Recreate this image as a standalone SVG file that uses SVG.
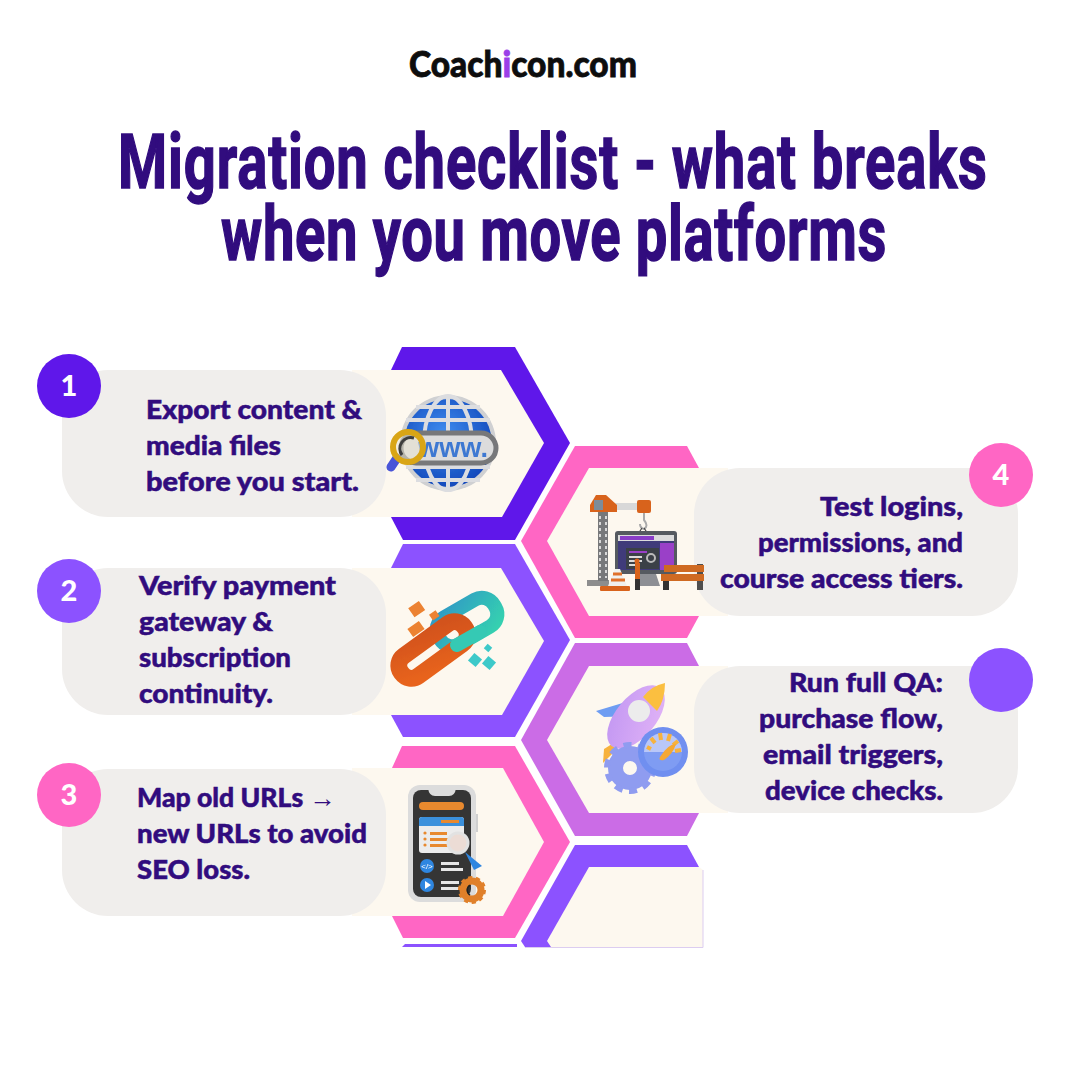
<svg xmlns="http://www.w3.org/2000/svg" width="1080" height="1080" viewBox="0 0 1080 1080">
<style>
.title{font-family:"Roboto","Liberation Sans",sans-serif;font-weight:700;font-size:72px;fill:#310c7e;stroke:#310c7e;stroke-width:1.4px}
.body{font-family:"Lato","Noto Sans",sans-serif;font-weight:900;font-size:26px;fill:#310c7e;stroke:#310c7e;stroke-width:.5px}
.num{font-family:"Lato","Noto Sans",sans-serif;font-weight:900;font-size:29px;fill:#fff;text-anchor:middle}
.pill{fill:#f0eeec}
.cream{fill:#fdf8ef}
.p1{fill:#5f17ea}.p2{fill:#8c52ff}.p3{fill:#ff66c4}.p4{fill:#cb6ce6}
</style>
<defs>
<radialGradient id="gb" cx="0.45" cy="0.4" r="0.65"><stop offset="0" stop-color="#3f8df0"/><stop offset="1" stop-color="#1045b8"/></radialGradient>
<linearGradient id="go" x1="0" y1="1" x2="1" y2="0"><stop offset="0" stop-color="#e8641b"/><stop offset="1" stop-color="#d2521a"/></linearGradient>
<linearGradient id="gt" x1="0" y1="0" x2="1" y2="1"><stop offset="0" stop-color="#2f9cc4"/><stop offset="1" stop-color="#35d0b0"/></linearGradient>
<linearGradient id="gr" x1="1" y1="0" x2="0" y2="1"><stop offset="0" stop-color="#e3b5f7"/><stop offset="1" stop-color="#c095f2"/></linearGradient>
<filter id="soft" x="-5%" y="-5%" width="110%" height="110%"><feGaussianBlur stdDeviation="0.5"/></filter>
</defs>
<rect width="1080" height="1080" fill="#fff"/>

<g id="logo"><text x="409" y="77" textLength="228" lengthAdjust="spacingAndGlyphs" style="font-family:Lato,'Noto Sans',sans-serif;font-weight:900;font-size:36px;fill:#0d0d0d;stroke:#0d0d0d;stroke-width:.8px">Coach<tspan fill="#9b3fe8" stroke="#9b3fe8">i</tspan>con.com</text></g>
<g id="title">
<text class="title" transform="translate(118 188) scale(.78 1.06)" textLength="1114" lengthAdjust="spacing">Migration checklist - what breaks</text>
<text class="title" transform="translate(221 260) scale(.78 1.06)" textLength="853" lengthAdjust="spacing">when you move platforms</text>
</g>

<g id="step-1">
<polygon class="p1" points="402,347 515,347 570,443 515,540 403,540 391,517 391,370"/>
<polygon class="cream" points="352,370 501,370 544,443 502,517 352,517"/>
<rect class="pill" x="62" y="370" width="324" height="147" rx="46"/>
<circle class="p1" cx="69" cy="386" r="32"/>
<text class="num" x="69" y="396">1</text>
<text class="body" x="146" y="419" textLength="216" lengthAdjust="spacingAndGlyphs">Export content &amp;</text>
<text class="body" x="146" y="455" textLength="135" lengthAdjust="spacingAndGlyphs">media files</text>
<text class="body" x="146" y="491" textLength="213" lengthAdjust="spacingAndGlyphs">before you start.</text>
<g filter="url(#soft)">
<circle cx="448" cy="443" r="48" fill="#cfd0d2"/>
<circle cx="448" cy="443" r="44" fill="url(#gb)"/>
<g fill="none" stroke="#dcdde0" stroke-width="4"><ellipse cx="448" cy="443" rx="24" ry="47"/><path d="M448 395V491M406 420H490M406 467H490M416 407H480M416 480H480"/></g>
<rect x="401" y="433" width="95" height="30" rx="15" fill="#dcdcdc" stroke="#77787a" stroke-width="5"/>
<text x="418" y="457" style="font-family:'Liberation Sans',sans-serif;font-weight:700;font-size:27px;fill:#3c78d2" textLength="70" lengthAdjust="spacingAndGlyphs">www.</text>
<path d="M397 458L391 467" stroke="#4a55d8" stroke-width="9" stroke-linecap="round"/>
<circle cx="408" cy="447" r="15" fill="#e9e3d2" fill-opacity=".55" stroke="#d9a514" stroke-width="6"/>
<path d="M402 455A11 11 0 0 1 414 438" fill="none" stroke="#3d3d3d" stroke-width="3"/>
</g>
</g>

<g id="step-2">
<polygon class="p2" points="403,544 515,544 570,640 515,737 403,737 391,715 391,568"/>
<polygon class="cream" points="352,568 501,568 544,641 502,715 352,715"/>
<rect class="pill" x="62" y="568" width="324" height="147" rx="46"/>
<circle class="p2" cx="69" cy="591" r="32"/>
<text class="num" x="69" y="601">2</text>
<text class="body" x="139" y="595" textLength="197" lengthAdjust="spacingAndGlyphs">Verify payment</text>
<text class="body" x="139" y="631" textLength="134" lengthAdjust="spacingAndGlyphs">gateway &amp;</text>
<text class="body" x="139" y="667" textLength="152" lengthAdjust="spacingAndGlyphs">subscription</text>
<text class="body" x="139" y="703" textLength="134" lengthAdjust="spacingAndGlyphs">continuity.</text>
<g filter="url(#soft)">
<rect x="435" y="606.5" width="64" height="31" rx="14" transform="rotate(-30 467 622)" fill="none" stroke="url(#gt)" stroke-width="14"/>
<rect x="394" y="637.5" width="78" height="25" rx="12" transform="rotate(-36 433 650)" fill="none" stroke="url(#go)" stroke-width="17"/>
<path d="M457 645L480 632" fill="none" stroke="#35c9b4" stroke-width="14" stroke-linecap="round"/>
<g fill="#ec8230"><rect x="410" y="604" width="13" height="11" transform="rotate(-35 416 609)"/><rect x="430" y="612" width="8" height="7" transform="rotate(-35 434 615)"/><rect x="409" y="624" width="14" height="10" transform="rotate(-35 416 629)"/></g>
<g fill="#3dc9c9"><rect x="470" y="655" width="10" height="10" transform="rotate(40 475 660)"/><rect x="485" y="645" width="6" height="6" transform="rotate(40 488 648)"/><rect x="484" y="658" width="10" height="10" transform="rotate(40 489 663)"/></g>
</g>
</g>

<g id="step-3">
<polygon class="p3" points="402,746 515,746 570,842 515,938 403,938 392,916 392,768"/>
<polygon class="cream" points="352,768 503,768 544,842 503,916 352,916"/>
<rect class="pill" x="62" y="769" width="324" height="147" rx="46"/>
<circle class="p3" cx="69" cy="795" r="32"/>
<text class="num" x="69" y="805">3</text>
<text class="body" x="137" y="807" textLength="199" lengthAdjust="spacingAndGlyphs">Map old URLs <tspan style="font-family:'Liberation Sans',sans-serif;font-weight:400;stroke-width:0">→</tspan></text>
<text class="body" x="137" y="843" textLength="230" lengthAdjust="spacingAndGlyphs">new URLs to avoid</text>
<text class="body" x="137" y="879" textLength="113" lengthAdjust="spacingAndGlyphs">SEO loss.</text>
<g filter="url(#soft)">
<rect x="408" y="785" width="68" height="117" rx="12" fill="#dcdcdc"/>
<rect x="476" y="814" width="2" height="18" fill="#cfcfcf"/>
<rect x="413" y="790" width="58" height="107" rx="8" fill="#363636"/>
<path d="M428 788H456Q455 796 449 796H435Q429 796 428 788Z" fill="#dcdcdc"/>
<rect x="419" y="802" width="45" height="8" rx="4" fill="#e8892f"/>
<rect x="419" y="817" width="45" height="36" rx="3" fill="#ececec"/>
<path d="M419 826V820Q419 817 422 817H461Q464 817 464 820V826Z" fill="#3a90dc"/>
<rect x="441" y="820" width="18" height="3" fill="#e8892f"/>
<g fill="#e8892f"><rect x="430" y="832" width="17" height="3"/><rect x="430" y="838" width="20" height="3"/><rect x="430" y="844" width="18" height="3"/><circle cx="425" cy="833" r="1.6"/><circle cx="425" cy="839" r="1.6"/><circle cx="425" cy="845" r="1.6"/></g>
<path d="M465 852L482 866L474 870Z" fill="#2f86e0"/>
<circle cx="458" cy="843" r="10" fill="#ecdcd5" stroke="#e2e2e2" stroke-width="3"/>
<circle cx="427" cy="866" r="7" fill="#2f86e0"/><circle cx="427" cy="885" r="7" fill="#2f86e0"/>
<text x="427" y="869" text-anchor="middle" style="font-family:'Liberation Sans',sans-serif;font-size:8px;fill:#fff">&lt;/&gt;</text>
<polygon points="425,881 431,885 425,889" fill="#fff"/>
<g fill="#e6e6e6"><rect x="441" y="862" width="18" height="3"/><rect x="441" y="868" width="22" height="3"/><rect x="441" y="881" width="18" height="3"/><rect x="441" y="887" width="18" height="3"/></g>
<circle cx="472" cy="890" r="9" fill="none" stroke="#e0802a" stroke-width="7"/>
<circle cx="472" cy="890" r="12" fill="none" stroke="#e0802a" stroke-width="4" stroke-dasharray="4 3.5"/>
<path d="M470 885A6 6 0 0 0 470 895" fill="none" stroke="#222" stroke-width="1.5"/>
</g>
</g>

<g id="step-3-clipped-edge"><polygon class="p2" points="405,944 517,944 517,947 402,947"/></g>

<g id="step-4">
<polygon class="p3" points="575,446 687,446 699,468 699,616 687,638 575,638 521,541"/>
<polygon class="cream" points="589,468 728,468 728,616 589,616 547,541"/>
<rect class="pill" x="694" y="468" width="324" height="148" rx="46"/>
<circle class="p3" cx="1001" cy="475" r="32"/>
<text class="num" x="1001" y="485">4</text>
<text class="body" x="820" y="516" textLength="143" lengthAdjust="spacingAndGlyphs">Test logins,</text>
<text class="body" x="758" y="552" textLength="205" lengthAdjust="spacingAndGlyphs">permissions, and</text>
<text class="body" x="720" y="588" textLength="243" lengthAdjust="spacingAndGlyphs">course access tiers.</text>
<g filter="url(#soft)">
<rect x="587" y="580" width="22" height="6" fill="#8d8d8d"/>
<rect x="598" y="512" width="10" height="69" fill="#77787a"/>
<path d="M600 516V578M606 516V578" stroke="#d9d9d9" stroke-width="2" stroke-dasharray="3 3" fill="none"/>
<rect x="608" y="503" width="32" height="7" fill="#d8d8d8"/>
<polygon points="590,505 596,495 606,495 617,505 617,512 590,512" fill="#d8641f"/>
<rect x="594" y="500" width="9" height="10" fill="#7d8c99"/>
<rect x="637" y="500" width="14" height="13" rx="2" fill="#d8641f"/>
<path d="M644 513V520Q649 526 644 529Q640 528 640 524" fill="none" stroke="#aaa" stroke-width="2"/>
<path d="M642 528L628 549M644 528L658 549" stroke="#444" stroke-width="1.2" fill="none"/>
<rect x="615" y="531" width="62" height="43" rx="3" fill="#555a60"/>
<rect x="618" y="535" width="56" height="35" fill="#3f3a7a"/>
<rect x="618" y="535" width="56" height="6" fill="#dcdcdc"/>
<rect x="620" y="536" width="34" height="4" fill="#8a3dc8"/>
<rect x="660" y="543" width="14" height="27" fill="#9a40c8"/>
<rect x="626" y="548" width="33" height="21" fill="#3b3f46"/>
<rect x="629" y="551" width="18" height="2" fill="#9a40c8"/>
<g fill="#dcdcdc"><rect x="629" y="556" width="13" height="2"/><rect x="629" y="560" width="13" height="2"/><rect x="629" y="564" width="10" height="2"/></g>
<circle cx="651" cy="558" r="4" fill="none" stroke="#bbb" stroke-width="2"/>
<polygon points="638,574 656,574 660,586 635,586" fill="#8d8f94"/>
<polygon points="615,569 620,569 627,586 608,586" fill="#f0f0ee"/>
<path d="M613 574H622M611 580H625" stroke="#e0702b" stroke-width="3"/>
<rect x="600" y="586" width="30" height="5" rx="1" fill="#d8641f"/>
<rect x="635" y="563" width="5" height="16" fill="#d8641f"/><rect x="635" y="579" width="5" height="11" fill="#333"/><circle cx="637" cy="561" r="2.5" fill="#d8641f"/>
<rect x="663" y="581" width="6" height="9" fill="#333"/><rect x="697" y="564" width="6" height="26" fill="#333" opacity=".85"/>
<rect x="664" y="565" width="40" height="7" fill="#cf6a24"/><rect x="661" y="574" width="43" height="7" fill="#cf6a24"/>
</g>
</g>

<g id="step-5">
<polygon class="p4" points="575,643 687,643 699,666 699,813 687,836 575,836 521,740"/>
<polygon class="cream" points="589,666 728,666 728,813 589,813 547,740"/>
<rect class="pill" x="694" y="666" width="324" height="147" rx="46"/>
<circle class="p2" cx="1001" cy="680" r="32"/>
<text class="body" x="789" y="692" textLength="154" lengthAdjust="spacingAndGlyphs">Run full QA:</text>
<text class="body" x="759" y="728" textLength="184" lengthAdjust="spacingAndGlyphs">purchase flow,</text>
<text class="body" x="763" y="764" textLength="180" lengthAdjust="spacingAndGlyphs">email triggers,</text>
<text class="body" x="765" y="800" textLength="178" lengthAdjust="spacingAndGlyphs">device checks.</text>
<g filter="url(#soft)">
<polygon points="596,711 626,702 636,716 604,717" fill="#6e9df2"/>
<polygon points="603,763 604,749 612,744 616,750" fill="#f7b23c"/>
<ellipse cx="636" cy="717" rx="20" ry="38" transform="rotate(40 636 717)" fill="url(#gr)"/>
<path d="M643 697Q651 686 665 683Q665 700 657 711Z" fill="#fbbf40"/>
<circle cx="639" cy="711" r="11" fill="#ececec"/>
<circle cx="630" cy="768" r="14.5" fill="none" stroke="#8f9cf0" stroke-width="15"/>
<circle cx="630" cy="768" r="23" fill="none" stroke="#8f9cf0" stroke-width="6" stroke-dasharray="8 6.45"/>
<circle cx="663" cy="752" r="25" fill="#6f8ff0"/>
<circle cx="663" cy="752" r="19" fill="#7f9cf3"/>
<path d="M644 752A19 19 0 0 1 682 752Z" fill="#b9c7f8"/>
<path d="M647 747L651 749M651 738L655 743M660 733L661 740M670 734L668 741M678 741L673 745M681 750L675 751" stroke="#f7b23c" stroke-width="4"/>
<path d="M660 757Q668 744 676 744Q673 754 664 760Q658 761 660 757Z" fill="#f5a832"/>
</g>
</g>

<g id="step-6">
<polygon class="p2" points="575,845 687,845 699,867 699,947 525,947 521,941"/>
<polygon class="cream" points="589,867 699,867 703,870 703,947 551,947 547,941"/>
<path d="M703 870V947.5H525" fill="none" stroke="#dccdf0" stroke-width="1"/>
</g>

<g id="connectors"></g>
</svg>
